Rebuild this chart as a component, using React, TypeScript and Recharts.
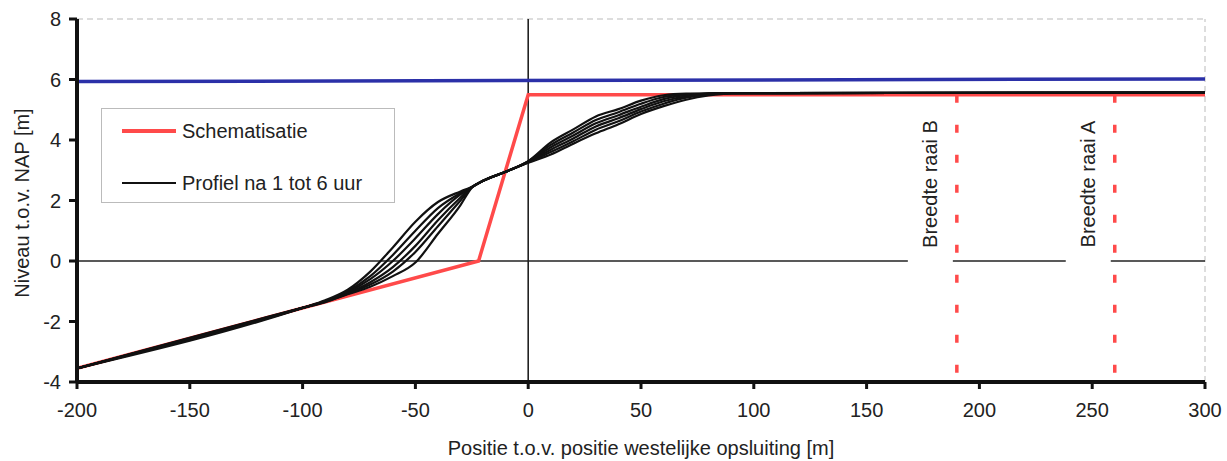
import {
  LineChart,
  Line,
  XAxis,
  YAxis,
  ReferenceLine,
} from "recharts";

const profileX = [
  -200, -100, -90, -80, -70, -60, -50, -40, -30, -25, -20, -10, 0, 10, 20, 30,
  40, 50, 60, 70, 80, 90, 100, 300,
];

// profiel na 1 t/m 6 uur (m NAP)
const profiel1 = [
  -3.55, -1.55, -1.36, -1.1, -0.85, -0.5, -0.05, 0.9, 1.85, 2.42, 2.65, 2.95,
  3.3, 3.92, 4.35, 4.78, 5.02, 5.3, 5.48, 5.53, 5.54, 5.55, 5.55, 5.57,
];
const profiel2 = [
  -3.55, -1.55, -1.35, -1.08, -0.78, -0.35, 0.3, 1.15, 2.0, 2.43, 2.65, 2.95,
  3.29, 3.84, 4.25, 4.66, 4.92, 5.2, 5.42, 5.51, 5.54, 5.55, 5.55, 5.57,
];
const profiel3 = [
  -3.55, -1.55, -1.34, -1.06, -0.7, -0.2, 0.5, 1.35, 2.1, 2.44, 2.65, 2.95,
  3.28, 3.76, 4.15, 4.55, 4.82, 5.1, 5.35, 5.48, 5.53, 5.55, 5.55, 5.57,
];
const profiel4 = [
  -3.55, -1.55, -1.33, -1.03, -0.6, 0.0, 0.75, 1.55, 2.2, 2.44, 2.65, 2.95,
  3.27, 3.68, 4.05, 4.45, 4.72, 5.02, 5.28, 5.44, 5.52, 5.55, 5.55, 5.57,
];
const profiel5 = [
  -3.55, -1.55, -1.32, -1.0, -0.5, 0.2, 1.0, 1.75, 2.25, 2.45, 2.65, 2.95,
  3.26, 3.6, 3.96, 4.34, 4.62, 4.94, 5.2, 5.4, 5.5, 5.55, 5.55, 5.57,
];
const profiel6 = [
  -3.55, -1.55, -1.3, -0.95, -0.35, 0.45, 1.3, 1.95, 2.3, 2.45, 2.65, 2.95,
  3.25, 3.52, 3.88, 4.22, 4.52, 4.86, 5.12, 5.33, 5.47, 5.54, 5.55, 5.57,
];

const schemaX = [-200, -22, 0, 300];
const schemaY = [-3.55, 0, 5.5, 5.5];

const waterX = [-200, 300];
const waterY = [5.93, 6.02];

const raaiX = [190, 260];
const raaiLabels = ["Breedte raai B", "Breedte raai A"];

const xTicks = [-200, -150, -100, -50, 0, 50, 100, 150, 200, 250, 300];
const yTicks = [-4, -2, 0, 2, 4, 6, 8];

const profiles = [profiel1, profiel2, profiel3, profiel4, profiel5, profiel6];

const toPoints = (xs: number[], ys: number[]) =>
  xs.map((x, i) => ({ x, y: ys[i] }));

const FONT = "'Liberation Sans', Arial, sans-serif";
const TXT = "#222";

const raaiLabel = (text: string) => (props: any) => {
  const vb = props.viewBox || {};
  const cx = vb.x - 27;
  const cy = 184;
  return (
    <g>
      <rect x={cx - 22} y={106} width={45} height={160} fill="#fff" />
      <text
        x={cx}
        y={cy}
        transform={`rotate(-90 ${cx} ${cy})`}
        textAnchor="middle"
        dominantBaseline="central"
        fontSize={20}
        fontFamily={FONT}
        fill={TXT}
      >
        {text}
      </text>
    </g>
  );
};

export default function App() {
  return (
    <div
      style={{
        position: "absolute",
        left: 0,
        top: 0,
        width: 1227,
        height: 461,
        background: "#fff",
        fontFamily: FONT,
      }}
    >
      <LineChart
        width={1227}
        height={461}
        margin={{ top: 19, right: 22, bottom: 0, left: 0 }}
      >
        <XAxis
          type="number"
          dataKey="x"
          domain={[-200, 300]}
          ticks={xTicks}
          allowDataOverflow
          height={79}
          axisLine={{ stroke: "#111", strokeWidth: 4 }}
          tickLine={{ stroke: "#111", strokeWidth: 3 }}
          tickSize={7}
          tickMargin={14}
          tick={{ fill: TXT, fontSize: 20, fontFamily: FONT }}
          label={{
            value: "Positie t.o.v. positie westelijke opsluiting [m]",
            position: "insideBottom",
            offset: 6,
            fill: TXT,
            fontSize: 20,
            fontFamily: FONT,
          }}
        />
        <YAxis
          type="number"
          domain={[-4, 8]}
          ticks={yTicks}
          allowDataOverflow
          width={77}
          axisLine={{ stroke: "#111", strokeWidth: 4 }}
          tickLine={{ stroke: "#111", strokeWidth: 3 }}
          tickSize={8}
          tickMargin={8}
          tick={{ fill: TXT, fontSize: 20, fontFamily: FONT }}
          label={{
            content: () => (
              <text
                x={22}
                y={203}
                transform="rotate(-90 22 203)"
                textAnchor="middle"
                dominantBaseline="central"
                fontSize={20}
                fontFamily={FONT}
                fill={TXT}
              >
                Niveau t.o.v. NAP [m]
              </text>
            ),
          }}
        />
        <ReferenceLine
          y={8}
          stroke="#bbb"
          strokeDasharray="6 4"
          ifOverflow="visible"
        />
        <ReferenceLine
          x={300}
          stroke="#bbb"
          strokeDasharray="6 4"
          ifOverflow="visible"
        />
        <ReferenceLine y={0} stroke="#222" strokeWidth={1.6} />
        <ReferenceLine x={0} stroke="#222" strokeWidth={1.6} />
        {raaiX.map((rx, i) => (
          <ReferenceLine
            key={rx}
            segment={[
              { x: rx, y: 5.5 },
              { x: rx, y: -4 },
            ]}
            stroke="#ff4a4a"
            strokeWidth={3.5}
            strokeDasharray="8 22"
            label={raaiLabel(raaiLabels[i])}
          />
        ))}
        <Line
          data={toPoints(waterX, waterY)}
          dataKey="y"
          type="linear"
          stroke="#2b30a8"
          strokeWidth={3.5}
          dot={false}
          isAnimationActive={false}
        />
        <Line
          data={toPoints(schemaX, schemaY)}
          dataKey="y"
          type="linear"
          stroke="#ff4a4a"
          strokeWidth={3.5}
          dot={false}
          isAnimationActive={false}
        />
        {profiles.map((p, i) => (
          <Line
            key={i}
            data={toPoints(profileX, p)}
            dataKey="y"
            type="monotone"
            stroke="#111"
            strokeWidth={2.2}
            dot={false}
            isAnimationActive={false}
          />
        ))}
      </LineChart>
      <div
        style={{
          position: "absolute",
          left: 101,
          top: 108,
          width: 294,
          height: 95,
          boxSizing: "border-box",
          border: "1px solid #bbb",
          background: "#fff",
          fontSize: 20,
          color: TXT,
        }}
      >
        <div
          style={{
            position: "absolute",
            left: 20,
            top: 20,
            width: 54,
            height: 4,
            background: "#ff4a4a",
          }}
        />
        <div
          style={{
            position: "absolute",
            left: 80,
            top: 9,
            lineHeight: "26px",
            whiteSpace: "nowrap",
          }}
        >
          Schematisatie
        </div>
        <div
          style={{
            position: "absolute",
            left: 20,
            top: 73,
            width: 54,
            height: 2,
            background: "#111",
          }}
        />
        <div
          style={{
            position: "absolute",
            left: 80,
            top: 61,
            lineHeight: "26px",
            whiteSpace: "nowrap",
          }}
        >
          Profiel na 1 tot 6 uur
        </div>
      </div>
    </div>
  );
}
